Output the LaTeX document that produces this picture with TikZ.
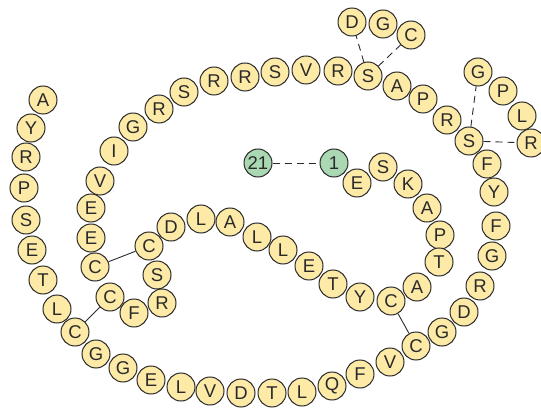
\documentclass[tikz,border=0pt]{standalone}
\usepackage{fontspec}
\setmainfont{Liberation Sans}
\definecolor{resfill}{HTML}{FDEAA7}
\definecolor{endfill}{HTML}{AAD8B3}
\definecolor{resink}{HTML}{2A2A2A}

\begin{document}
\begin{tikzpicture}[x=1pt, y=-1pt,
  res/.style={circle, draw=resink, line width=1pt, fill=resfill, minimum size=28pt, inner sep=0pt, text=resink, font=\fontsize{18.5}{18.5}\selectfont},
  term/.style={res, fill=endfill},
  bond/.style={resink, line width=0.9pt},
  link/.style={resink, line width=0.9pt, dash pattern=on 7pt off 5pt}]

  \useasboundingbox (0,0) rectangle (541,409);

  % main chain, starting at residue 1
  \node[term] (r1) at (334,163) {1};
  \foreach \px/\py/\aa [count=\i from 2] in {
      357/183/E, 383/167/S, 408/184/K, 427/208/A, 440/235/P, 439/262/T,
      417/287/A, 391/301/C, 360/297/Y, 333/284/T, 309/266/E, 283/250/L,
      257/237/L, 230/222/A, 201/219/L, 171/227/D, 149/246/C, 157/275/S,
      162/303/R, 134/313/F, 110/297/C, 95/267/C, 91/238/E, 91/208/E,
      100/181/V, 114/151/I, 133/127/G, 159/109/R, 184/92/S, 214/81/R,
      245/77/R, 275/72/S, 306/70/V, 338/71/R, 368/76/S, 397/86/A,
      423/99/P, 447/120/R, 469/141/S, 487/164/F, 494/192/Y, 496/226/F,
      492/256/G, 480/286/R, 464/312/D, 442/332/G, 416/346/C, 390/362/V,
      360/374/F, 332/386/Q, 302/392/L, 272/393/T, 241/393/D, 210/391/V,
      181/387/L, 151/380/E, 123/368/G, 96/354/G, 75/332/C, 57/309/L,
      43/280/T, 32/250/E, 26/220/S, 24/188/P, 26/157/R, 31/128/Y, 43/100/A}
    \node[res] (r\i) at (\px,\py) {\aa};

  % side branches
  \foreach \px/\py/\aa [count=\i] in {352/22/D, 383/24/G, 411/35/C}
    \node[res] (d\i) at (\px,\py) {\aa};
  \foreach \px/\py/\aa [count=\i] in {478/72/G, 503/91/P, 522/116/L, 531/143/R}
    \node[res] (g\i) at (\px,\py) {\aa};

  \node[term] (r21) at (258,163) {21};

  \draw[link] (r21) -- (r1);
  \draw[link] (r36) -- (d1);
  \draw[link] (r36) -- (d3);
  \draw[link] (r40) -- (g1);
  \draw[link] (r40) -- (g4);

  % disulfide bonds
  \draw[bond] (r23) -- (r18);
  \draw[bond] (r22) -- (r60);
  \draw[bond] (r9) -- (r48);

\end{tikzpicture}
\end{document}
